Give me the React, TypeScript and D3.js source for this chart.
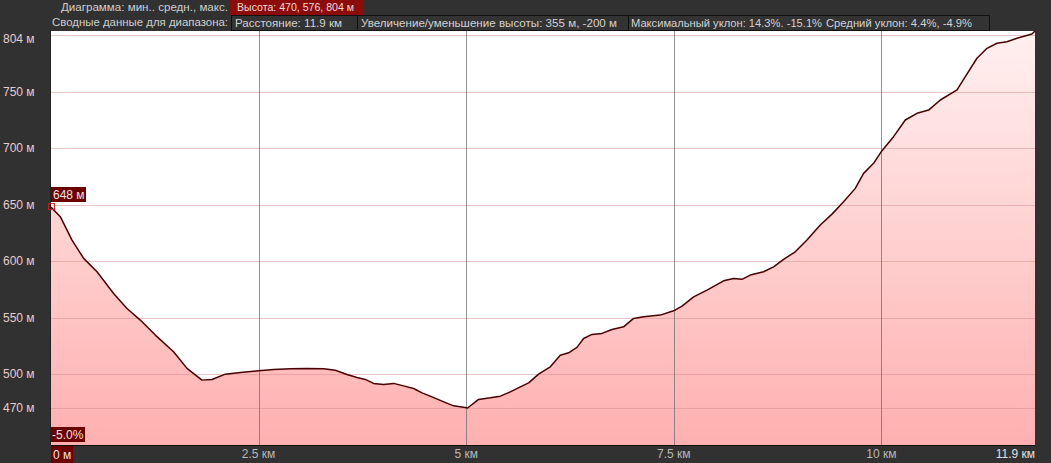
import React from "react";
import * as d3 from "d3";

const distKm = [0, 0.112, 0.253, 0.393, 0.554, 0.754, 0.915, 1.075, 1.256, 1.476, 1.638, 1.818, 1.939, 2.099, 2.28, 2.5, 2.681, 2.882, 3.083, 3.283, 3.424, 3.565, 3.685, 3.785, 3.885, 4.005, 4.126, 4.246, 4.367, 4.468, 4.588, 4.709, 4.848, 4.969, 5.017, 5.149, 5.29, 5.411, 5.531, 5.652, 5.752, 5.872, 6.013, 6.133, 6.233, 6.334, 6.414, 6.515, 6.635, 6.756, 6.895, 7.016, 7.136, 7.337, 7.498, 7.599, 7.739, 7.9, 8.1, 8.22, 8.321, 8.421, 8.581, 8.702, 8.822, 8.963, 9.104, 9.264, 9.405, 9.545, 9.686, 9.786, 9.906, 10.007, 10.147, 10.288, 10.429, 10.569, 10.71, 10.911, 11.011, 11.151, 11.272, 11.392, 11.512, 11.633, 11.813, 11.85];
const elevM = [648, 639.5, 618.8, 602.6, 590.7, 571.5, 558.2, 547.9, 534.6, 519.8, 505.1, 494.7, 495.3, 500, 501.5, 502.9, 504.2, 504.7, 505.1, 504.7, 503.5, 499.7, 497.1, 495.3, 491.8, 490.9, 491.8, 489.6, 487.3, 483.4, 479.9, 476.1, 471.9, 470.7, 470, 477.6, 479, 480.5, 484.3, 488.7, 492.3, 500, 506.5, 516.8, 518.9, 523.7, 531.6, 535.2, 536.1, 539.6, 541.9, 549.4, 550.8, 552.3, 556.1, 560.3, 568.5, 574.5, 582.7, 584.8, 584, 587.8, 590.7, 595.1, 601.7, 608.4, 618.8, 632.1, 641.8, 652.7, 664.6, 677.9, 686.8, 698, 710.4, 725.2, 731.1, 734, 742.9, 751.8, 763.6, 779.9, 788.7, 793.2, 794.6, 797.6, 801.4, 804];

const yTicks = [804, 750, 700, 650, 600, 550, 500, 470];
const xTicks = [2.5, 5, 7.5, 10];
const xTickLabels = ["2.5 км", "5 км", "7.5 км", "10 км"];
const endLabel = "11.9 км";
const startLabel = "0 м";
const startElevLabel = "648 м";
const gradeLabel = "-5.0%";
const headerRow1Label = "Диаграмма: мин.. средн., макс.";
const headerRow1Value = "Высота: 470, 576, 804 м";
const headerRow2Label = "Сводные данные для диапазона:";
const headerRow2Cells = [
  "Расстояние: 11.9 км",
  "Увеличение/уменьшение высоты: 355 м, -200 м",
  "Максимальный уклон: 14.3%. -15.1%",
  "Средний уклон: 4.4%, -4.9%",
];
const cellTextStart = [235, 361, 631, 826];
const cellTextWidth = [107, 256, 191, 146];
const cellEdges = [231, 357, 628, 989];

const W = 1051;
const H = 463;
const left = 51;
const right = 1035;
const top = 31;
const bottom = 445;
const font = "'Liberation Sans', Arial, sans-serif";

export default function App() {
  const x = d3.scaleLinear().domain([0, 11.85]).range([left, right]);
  const y = d3.scaleLinear().domain([470, 750]).range([408, 92]);
  const data = distKm.map((d, i) => [d, elevM[i]] as [number, number]);
  const area = d3
    .area<[number, number]>()
    .x((d) => x(d[0]))
    .y0(bottom)
    .y1((d) => y(d[1]));
  const line = d3
    .line<[number, number]>()
    .x((d) => x(d[0]))
    .y((d) => y(d[1]));

  return (
    <svg
      width={W}
      height={H}
      style={{ position: "absolute", left: 0, top: 0, display: "block" }}
      fontFamily={font}
    >
      <defs>
        <linearGradient id="fillGrad" x1="0" y1={top} x2="0" y2={bottom} gradientUnits="userSpaceOnUse">
          <stop offset="0" stopColor="#fff0f0" />
          <stop offset="1" stopColor="#ffb0b0" />
        </linearGradient>
      </defs>
      <rect x={0} y={0} width={W} height={H} fill="#313131" />
      {/* header */}
      <text x={61} y={11} fontSize={11.5} fill="#cfcfcf" textLength={167} lengthAdjust="spacingAndGlyphs">
        {headerRow1Label}
      </text>
      <rect x={230} y={0} width={133} height={15} fill="#8c0c0c" />
      <text x={237} y={11} fontSize={11.5} fill="#f2d8d8" textLength={117} lengthAdjust="spacingAndGlyphs">
        {headerRow1Value}
      </text>
      <text x={52} y={26} fontSize={11.5} fill="#cfcfcf" textLength={176} lengthAdjust="spacingAndGlyphs">
        {headerRow2Label}
      </text>
      <rect x={231.5} y={15.5} width={cellEdges[3] - 231} height={15} fill="#333" stroke="#111" />
      {cellEdges.slice(1, 3).map((e) => (
        <line key={e} x1={e + 0.5} x2={e + 0.5} y1={15} y2={31} stroke="#111" />
      ))}
      {headerRow2Cells.map((c, i) => (
        <text
          key={c}
          x={cellTextStart[i]}
          y={27}
          fontSize={11.5}
          fill="#d2d2d2"
          textLength={cellTextWidth[i]}
          lengthAdjust="spacingAndGlyphs"
        >
          {c}
        </text>
      ))}
      {/* plot area */}
      <rect x={left} y={top} width={right - left} height={bottom - top} fill="#ffffff" />
      <path d={area(data) || ""} fill="url(#fillGrad)" />
      {yTicks.map((t) => (
        <line
          key={t}
          x1={left}
          x2={right}
          y1={Math.round(Math.max(y(t), top + 4)) + 0.5}
          y2={Math.round(Math.max(y(t), top + 4)) + 0.5}
          stroke="#d88c8c"
          strokeOpacity={0.5}
        />
      ))}
      {xTicks.map((t) => (
        <line
          key={t}
          x1={Math.round(x(t)) + 0.5}
          x2={Math.round(x(t)) + 0.5}
          y1={top}
          y2={bottom}
          stroke="#6e6e6e"
          strokeOpacity={0.75}
        />
      ))}
      <path d={line(data) || ""} fill="none" stroke="#4a0000" strokeWidth={1.5} strokeLinejoin="round" />
      <line x1={left} x2={right} y1={bottom + 0.5} y2={bottom + 0.5} stroke="#111" />
      <line x1={left - 0.5} x2={left - 0.5} y1={top} y2={bottom} stroke="#222" />
      {/* start marker */}
      <rect x={left - 2.5} y={y(elevM[0]) - 3.5} width={6} height={6} fill="none" stroke="#c02020" strokeWidth={1} />
      <rect x={left} y={187} width={35} height={15} fill="#6a0000" />
      <text x={left + 2} y={199} fontSize={12} fill="#f0e0e0">
        {startElevLabel}
      </text>
      <rect x={left} y={427} width={34} height={15} fill="#6a0000" />
      <text x={left + 1} y={439} fontSize={12} fill="#f0e0e0">
        {gradeLabel}
      </text>
      {/* y axis labels */}
      {yTicks.map((t) => (
        <text key={t} x={3} y={Math.max(y(t), 39) + 4} fontSize={12} fill="#e8cccc">
          {`${t} м`}
        </text>
      ))}
      {/* x axis labels */}
      <rect x={left} y={446} width={22} height={17} fill="#6a0000" />
      <text x={left + 2} y={459} fontSize={12} fill="#f0e0e0">
        {startLabel}
      </text>
      {xTicks.map((t, i) => (
        <text key={t} x={x(t)} y={458} fontSize={12} fill="#b8b8b8" textAnchor="middle">
          {xTickLabels[i]}
        </text>
      ))}
      <text x={right} y={458} fontSize={12} fill="#e0e0e0" textAnchor="end">
        {endLabel}
      </text>
    </svg>
  );
}
